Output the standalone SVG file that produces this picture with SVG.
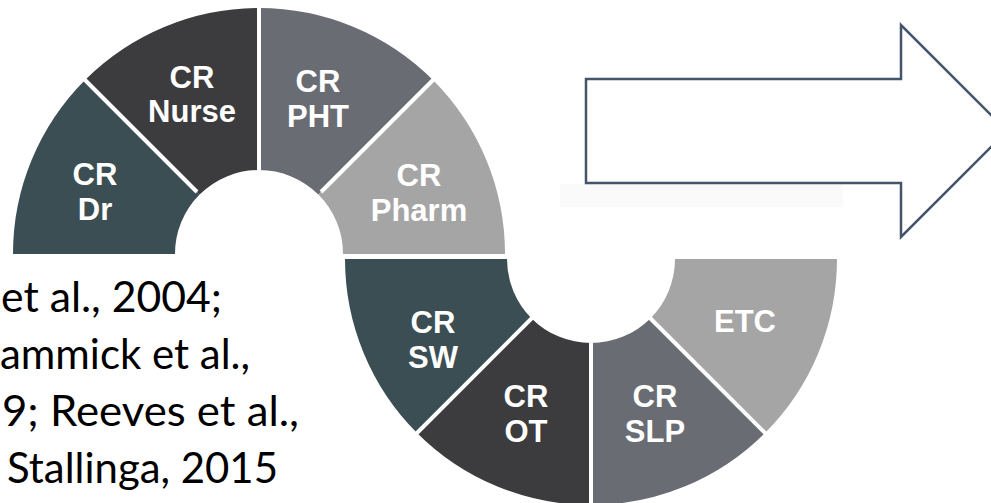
<svg xmlns="http://www.w3.org/2000/svg" width="991" height="503" viewBox="0 0 991 503">
  <style>
    .lbl { font-family: "Liberation Sans", Arial, sans-serif; font-weight: bold; font-size: 31px; fill: #ffffff; text-anchor: middle; }
    .cite { font-family: Lato, "Open Sans", sans-serif; font-size: 42px; fill: #000000; }
    .c1 { fill: #3b4e54; }
    .c2 { fill: #3c3c3e; }
    .c3 { fill: #696d73; }
    .c4 { fill: #a5a5a5; }
    .div { stroke: #ffffff; stroke-width: 4; fill: none; }
  </style>
  <rect width="991" height="503" fill="#ffffff"/>

  <!-- top half ring, centre (259,254), R=246, r=84 -->
  <g id="cr-dr">
    <path class="c1" d="M13,254 A246,246 0 0 1 85.05,80.05 L199.6,194.6 A84,84 0 0 0 175,254 Z"/>
    <text class="lbl" x="95" y="185">CR</text>
    <text class="lbl" x="95" y="220">Dr</text>
  </g>
  <g id="cr-nurse">
    <path class="c2" d="M85.05,80.05 A246,246 0 0 1 259,8 L259,170 A84,84 0 0 0 199.6,194.6 Z"/>
    <text class="lbl" x="192" y="88">CR</text>
    <text class="lbl" x="192" y="122">Nurse</text>
  </g>
  <g id="cr-pht">
    <path class="c3" d="M259,8 A246,246 0 0 1 432.95,80.05 L318.4,194.6 A84,84 0 0 0 259,170 Z"/>
    <text class="lbl" x="318" y="92">CR</text>
    <text class="lbl" x="318" y="127">PHT</text>
  </g>
  <g id="cr-pharm">
    <path class="c4" d="M432.95,80.05 A246,246 0 0 1 505,254 L343,254 A84,84 0 0 0 318.4,194.6 Z"/>
    <text class="lbl" x="419" y="186">CR</text>
    <text class="lbl" x="419" y="221">Pharm</text>
  </g>

  <!-- bottom half ring, centre (591,259), R=246, r=84 -->
  <g id="cr-sw">
    <path class="c1" d="M345,259 A246,246 0 0 0 417.05,432.95 L531.6,318.4 A84,84 0 0 1 507,259 Z"/>
    <text class="lbl" x="433" y="333">CR</text>
    <text class="lbl" x="433" y="368">SW</text>
  </g>
  <g id="cr-ot">
    <path class="c2" d="M417.05,432.95 A246,246 0 0 0 591,505 L591,343 A84,84 0 0 1 531.6,318.4 Z"/>
    <text class="lbl" x="526" y="407">CR</text>
    <text class="lbl" x="526" y="442">OT</text>
  </g>
  <g id="cr-slp">
    <path class="c3" d="M591,505 A246,246 0 0 0 764.95,432.95 L650.4,318.4 A84,84 0 0 1 591,343 Z"/>
    <text class="lbl" x="655" y="407">CR</text>
    <text class="lbl" x="655" y="442">SLP</text>
  </g>
  <g id="etc">
    <path class="c4" d="M764.95,432.95 A246,246 0 0 0 837,259 L675,259 A84,84 0 0 1 650.4,318.4 Z"/>
    <text class="lbl" x="745" y="332">ETC</text>
  </g>

  <!-- white separators between segments -->
  <g id="separators" class="div">
    <line x1="197" y1="192" x2="82" y2="77"/>
    <line x1="259" y1="172" x2="259" y2="4"/>
    <line x1="321" y1="192" x2="436" y2="77"/>
    <line x1="534" y1="316" x2="414" y2="436"/>
    <line x1="591" y1="341" x2="591" y2="505"/>
    <line x1="648" y1="316" x2="768" y2="436"/>
  </g>

  <!-- faint band under the arrow -->
  <rect x="560" y="184" width="283" height="23" fill="#fafafa"/>

  <g id="arrow">
    <polygon points="586,79 901,79 901,25 1007,131 901,237 901,183 586,183" fill="#ffffff" stroke="#44546a" stroke-width="2.5" stroke-linejoin="miter"/>
  </g>

  <g id="citation">
    <text class="cite" x="1" y="312" textLength="221" lengthAdjust="spacingAndGlyphs">et al., 2004;</text>
    <text class="cite" x="0" y="369" textLength="250" lengthAdjust="spacingAndGlyphs">ammick et al.,</text>
    <text class="cite" x="2" y="426" textLength="297" lengthAdjust="spacingAndGlyphs">9; Reeves et al.,</text>
    <text class="cite" x="7" y="483" textLength="271" lengthAdjust="spacingAndGlyphs">Stallinga, 2015</text>
  </g>
</svg>
